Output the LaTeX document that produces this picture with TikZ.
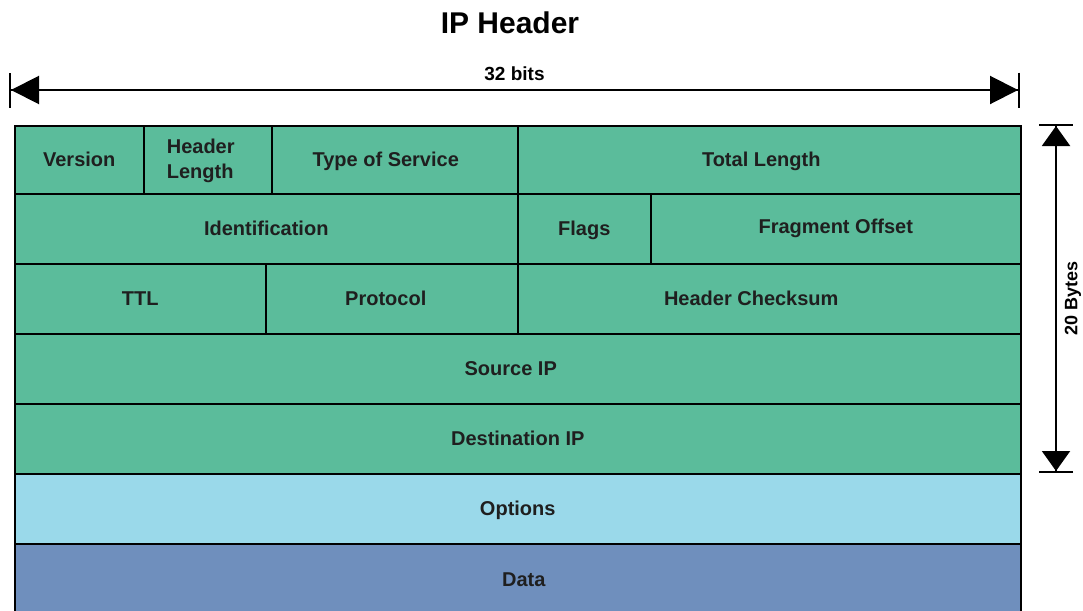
\documentclass[tikz,border=0pt]{standalone}
\usepackage{fontspec}
\setmainfont{Liberation Sans}
\usetikzlibrary{arrows.meta}
\definecolor{hdrgreen}{RGB}{91,188,155}
\definecolor{optblue}{RGB}{154,217,234}
\definecolor{datablue}{RGB}{111,143,189}
\begin{document}
\begin{tikzpicture}[x=1pt,y=-1pt,
    field/.style={draw=black, line width=1.5pt, fill=hdrgreen, anchor=north west, inner sep=0pt,
      align=center, text=black!88, text height=18pt, text depth=4pt, font=\bfseries\fontsize{20}{23}\selectfont},
    fieldtext/.style={inner sep=0pt, text=black!88, text height=18pt, text depth=4pt, font=\bfseries\fontsize{20}{23}\selectfont},
    dimline/.style={line width=2pt, black}]
    \useasboundingbox (0,0) rectangle (1083,610);
    \node [font=\bfseries\fontsize{30}{34}\selectfont] (title) at (510,23) {IP Header};
    \coordinate (bitsl) at (9,90);
    \coordinate (bitsr) at (1020,90);
    \draw [dimline, {Bar[width=35pt]Triangle[length=28pt,width=28pt]}-{Triangle[length=28pt,width=28pt]Bar[width=35pt]}] (bitsl) -- (bitsr)
      node [midway, above=8pt, inner sep=0pt, font=\bfseries\fontsize{19}{22}\selectfont] (bits) {32 bits};
    \node [field, minimum width=129pt, minimum height=68pt] (version) at (14,125) {Version};
    \node [field, minimum width=128pt, minimum height=68pt, label={[fieldtext, align=left, text height=, text depth=, xshift=-7pt, yshift=-1pt, font=\bfseries\fontsize{20}{25}\selectfont]center:Header\\Length}] (hdrlen) at (143,125) {};
    \node [field, minimum width=246pt, minimum height=68pt, label={[fieldtext, xshift=-9pt]center:Type of Service}] (tos) at (271,125) {};
    \node [field, minimum width=503pt, minimum height=68pt, label={[fieldtext, xshift=-8pt]center:Total Length}] (totlen) at (517,125) {};
    \node [field, minimum width=503pt, minimum height=70pt] (ident) at (14,193) {Identification};
    \node [field, minimum width=133pt, minimum height=70pt] (flags) at (517,193) {Flags};
    \node [field, minimum width=370pt, minimum height=70pt, label={[fieldtext, yshift=2pt]center:Fragment Offset}] (fragoff) at (650,193) {};
    \node [field, minimum width=251pt, minimum height=70pt] (ttl) at (14,263) {TTL};
    \node [field, minimum width=252pt, minimum height=70pt, label={[fieldtext, xshift=-6pt]center:Protocol}] (proto) at (265,263) {};
    \node [field, minimum width=503pt, minimum height=70pt, label={[fieldtext, xshift=-18pt]center:Header Checksum}] (chksum) at (517,263) {};
    \node [field, minimum width=1006pt, minimum height=70pt, label={[fieldtext, xshift=-7pt]center:Source IP}] (srcip) at (14,333) {};
    \node [field, minimum width=1006pt, minimum height=70pt] (dstip) at (14,403) {Destination IP};
    \node [field, fill=optblue, minimum width=1006pt, minimum height=70pt] (options) at (14,473) {Options};
    \node [field, fill=datablue, minimum width=1006pt, minimum height=72pt, label={[fieldtext, xshift=6pt]center:Data}] (data) at (14,543) {};
    \coordinate (bytest) at (1056,124);
    \coordinate (bytesb) at (1056,473);
    \draw [dimline, {Bar[width=34pt]Triangle[length=20pt,width=28pt]}-{Triangle[length=20pt,width=28pt]Bar[width=34pt]}] (bytest) -- (bytesb)
      node [midway, xshift=17pt, rotate=90, inner sep=0pt, font=\bfseries\fontsize{18}{20}\selectfont] (bytes) {20 Bytes};
\end{tikzpicture}
\end{document}
